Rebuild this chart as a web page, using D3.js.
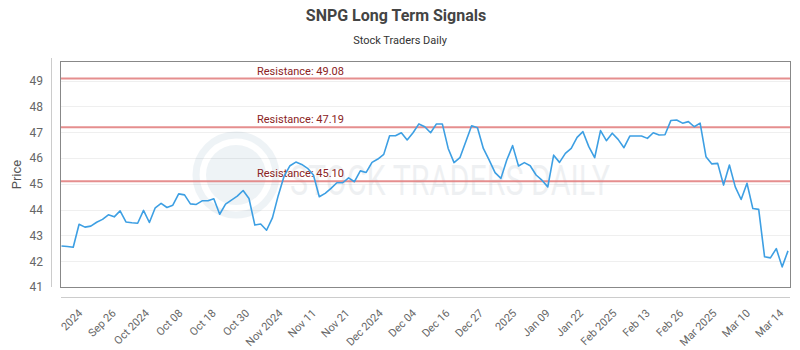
<!DOCTYPE html>
<html>
<head>
<meta charset="utf-8">
<script src="https://cdn.jsdelivr.net/npm/d3@7"></script>
<style>
    body { margin: 0; background: #ffffff; }
    text { font-family: Roboto, "Open Sans", sans-serif; }
</style>
</head>
<body>
<div id="chart"></div>
<script>
// trading days from Sep 16 2024 to Mar 14 2025
const prices = [
    42.59, 42.57, 42.54, 43.43, 43.32, 43.36, 43.51, 43.62, 43.80, 43.72,
    43.95, 43.52, 43.49, 43.47, 43.97, 43.50, 44.07, 44.24, 44.08, 44.17,
    44.61, 44.57, 44.22, 44.20, 44.34, 44.34, 44.42, 43.82, 44.21, 44.37,
    44.52, 44.74, 44.43, 43.40, 43.44, 43.20, 43.68, 44.55, 45.30, 45.70,
    45.84, 45.75, 45.60, 45.34, 44.50, 44.63, 44.82, 45.04, 45.04, 45.23,
    45.08, 45.50, 45.44, 45.83, 45.96, 46.14, 46.86, 46.86, 46.98, 46.70,
    46.98, 47.32, 47.21, 46.98, 47.32, 47.32, 46.37, 45.82, 46.01, 46.63,
    47.25, 47.17, 46.37, 45.92, 45.43, 45.21, 45.92, 46.48, 45.69, 45.82,
    45.70, 45.34, 45.14, 44.88, 46.11, 45.83, 46.18, 46.37, 46.80, 47.02,
    46.44, 46.01, 47.06, 46.67, 46.96, 46.72, 46.40, 46.85, 46.85, 46.85,
    46.76, 46.98, 46.89, 46.90, 47.45, 47.47, 47.35, 47.41, 47.21, 47.35,
    46.05, 45.77, 45.79, 44.95, 45.73, 44.88, 44.39, 45.02, 44.04, 44.01,
    42.17, 42.13, 42.49, 41.78, 42.40
];

// x labels, spread evenly along the axis
const tickLabels = ['2024', 'Sep 26', 'Oct 2024', 'Oct 08', 'Oct 18', 'Oct 30', 'Nov 2024', 'Nov 11',
    'Nov 21', 'Dec 2024', 'Dec 04', 'Dec 16', 'Dec 27', '2025', 'Jan 09', 'Jan 22', 'Feb 2025',
    'Feb 13', 'Feb 26', 'Mar 2025', 'Mar 10', 'Mar 14'];

const yTicks = [41, 42, 43, 44, 45, 46, 47, 48, 49];
const resistance = [49.08, 47.19, 45.10];

const width = 800;
const height = 350;
const plot = { left: 61, right: 790, top: 62, bottom: 287 };

const svg = d3.select('#chart').append('svg')
    .attr('width', width)
    .attr('height', height);

const x = d3.scalePoint()
    .domain(d3.range(prices.length))
    .range([plot.left + 0.5, plot.right - 2]);

const xLabels = d3.scalePoint()
    .domain(tickLabels)
    .range([73, 774]);

const y = d3.scaleLinear()
    .domain([41, 49.72])
    .range([plot.bottom, plot.top]);

// titles
svg.append('text')
    .attr('x', 396).attr('y', 21)
    .attr('text-anchor', 'middle')
    .attr('font-size', '16px')
    .attr('font-weight', 'bold')
    .attr('fill', '#444')
    .text('SNPG Long Term Signals');

svg.append('text')
    .attr('x', 400).attr('y', 44)
    .attr('text-anchor', 'middle')
    .attr('font-size', '11px')
    .attr('fill', '#333')
    .text('Stock Traders Daily');

// horizontal grid
svg.append('g')
    .selectAll('line')
    .data(yTicks)
    .enter().append('line')
    .attr('x1', plot.left).attr('x2', plot.right)
    .attr('y1', d => Math.round(y(d)) + 0.5)
    .attr('y2', d => Math.round(y(d)) + 0.5)
    .attr('stroke', '#efefef');

// watermark
const wm = svg.append('g').attr('opacity', 0.07);
wm.append('circle')
    .attr('cx', 236).attr('cy', 175).attr('r', 40)
    .attr('fill', 'none').attr('stroke', '#1f5f8b').attr('stroke-width', 7);
wm.append('circle')
    .attr('cx', 236).attr('cy', 175).attr('r', 30)
    .attr('fill', '#1f5f8b');
wm.append('text')
    .attr('x', 290).attr('y', 195)
    .attr('font-size', '42px')
    .attr('textLength', 320)
    .attr('lengthAdjust', 'spacingAndGlyphs')
    .attr('fill', '#1f3f5b')
    .text('STOCK TRADERS DAILY');

// y axis
const yAxis = svg.append('g')
    .attr('transform', 'translate(51,0)')
    .call(d3.axisLeft(y).tickValues(yTicks).tickSize(0).tickPadding(8).tickFormat(d3.format('d')));
yAxis.select('.domain').attr('stroke', '#ccc').attr('d', `M0.5,${plot.top - 4}V${plot.bottom}`);
yAxis.selectAll('text')
    .attr('font-size', '12px')
    .attr('fill', '#666')
    .attr('font-family', 'Roboto, sans-serif');

svg.append('text')
    .attr('transform', `translate(21,${(plot.top + plot.bottom) / 2}) rotate(-90)`)
    .attr('text-anchor', 'middle')
    .attr('font-size', '13px')
    .attr('fill', '#555')
    .text('Price');

// x axis
svg.append('line')
    .attr('x1', plot.left).attr('x2', plot.right)
    .attr('y1', 297.5).attr('y2', 297.5)
    .attr('stroke', '#ccc');

const xAxis = svg.append('g')
    .attr('transform', 'translate(0,301)')
    .call(d3.axisBottom(xLabels).tickSize(0).tickPadding(6));
xAxis.select('.domain').remove();
xAxis.selectAll('text')
    .attr('font-size', '11px')
    .attr('fill', '#666')
    .attr('text-anchor', 'end')
    .attr('dx', '-0.2em')
    .attr('dy', '0.9em')
    .attr('transform', 'rotate(-45)')
    .attr('font-family', 'Roboto, sans-serif');

// plot border
svg.append('rect')
    .attr('x', plot.left - 0.5).attr('y', plot.top - 0.5)
    .attr('width', plot.right - plot.left + 1)
    .attr('height', plot.bottom - plot.top + 1)
    .attr('fill', 'none')
    .attr('stroke', '#888');

// resistance lines
svg.append('g')
    .selectAll('line')
    .data(resistance)
    .enter().append('line')
    .attr('x1', plot.left).attr('x2', plot.right)
    .attr('y1', d => y(d)).attr('y2', d => y(d))
    .attr('stroke', '#e07a7a')
    .attr('stroke-opacity', 0.85)
    .attr('stroke-width', 2);

svg.append('g')
    .selectAll('text')
    .data(resistance)
    .enter().append('text')
    .attr('x', 257)
    .attr('y', d => y(d) - 4)
    .attr('font-size', '11px')
    .attr('fill', '#8b2323')
    .text(d => 'Resistance: ' + d.toFixed(2));

// price line
const line = d3.line()
    .x((d, i) => x(i))
    .y(d => y(d));

svg.append('path')
    .datum(prices)
    .attr('d', line)
    .attr('fill', 'none')
    .attr('stroke', '#3d9fe3')
    .attr('stroke-width', 1.6)
    .attr('stroke-linejoin', 'round');
</script>
</body>
</html>
